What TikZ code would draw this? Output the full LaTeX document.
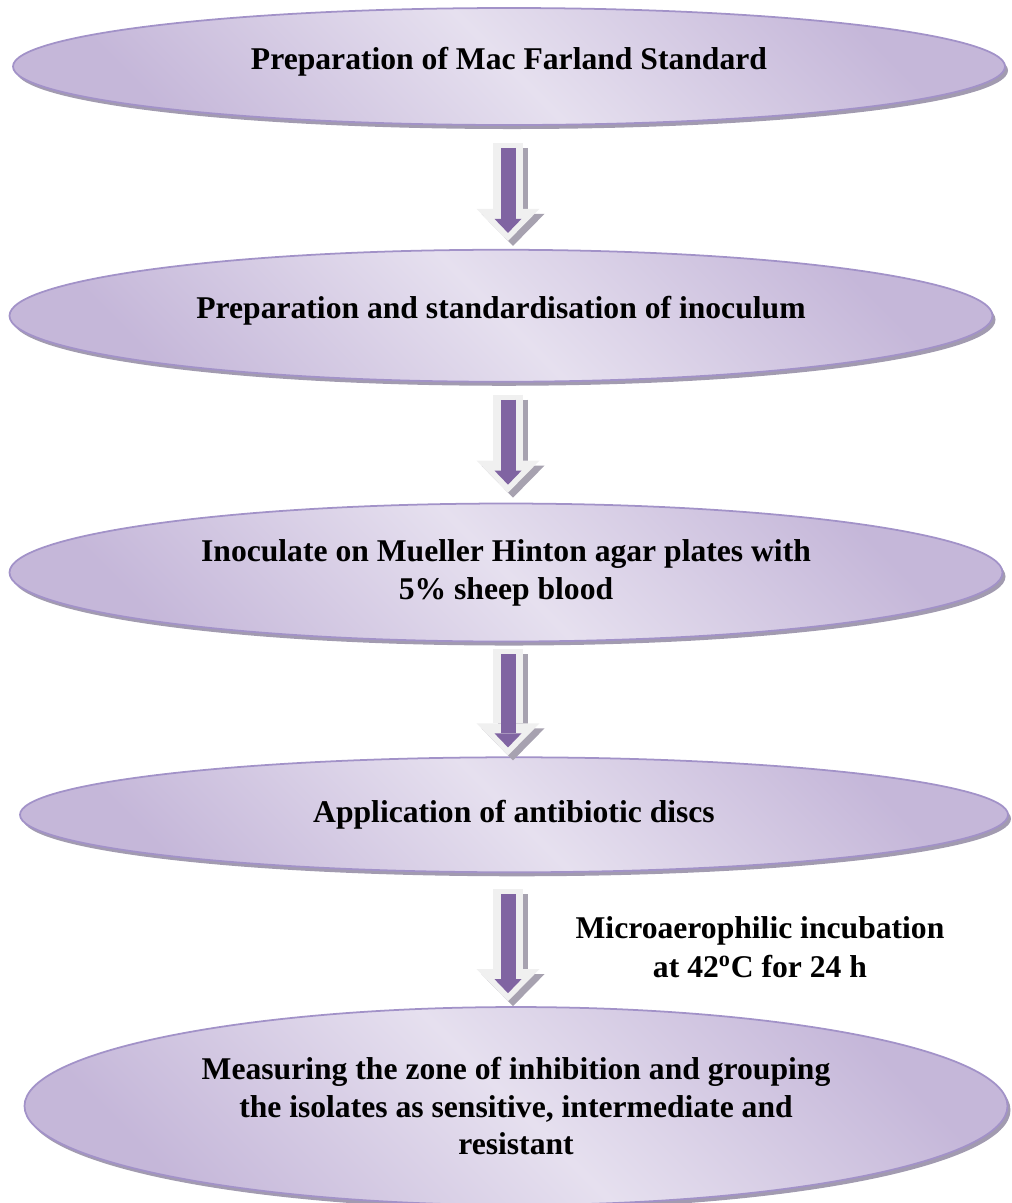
\documentclass[tikz,border=0pt]{standalone}
\usepackage{fontspec}
\setmainfont{Liberation Serif}
\usetikzlibrary{arrows.meta, positioning, shapes.geometric, shadows}

\definecolor{ellLight}{HTML}{E6E0EF}
\definecolor{ellDark}{HTML}{C5B7D9}
\definecolor{ellBorder}{HTML}{A292C8}
\definecolor{ellShadow}{HTML}{A29BB0}
\definecolor{flowPurple}{HTML}{8064A2}
\definecolor{flowShell}{HTML}{F0F0F0}
\definecolor{flowShade}{HTML}{A7A2B0}

\tikzset{
  stage/.style={ellipse, draw=ellBorder, line width=1pt, inner sep=0pt, align=center,
    top color=ellDark, bottom color=ellDark, middle color=ellLight, shading angle=-45,
    drop shadow={shadow xshift=0.06cm, shadow yshift=-0.08cm, fill=ellShadow, opacity=1},
    font=\bfseries\fontsize{18}{21.5}\selectfont},
  note/.style={align=center, font=\bfseries\fontsize{18}{22}\selectfont},
  flowshade/.style={line width=0.6cm, draw=flowShade,
    transform canvas={xshift=0.1cm, yshift=-0.1cm},
    -{Triangle[width=1.26cm, length=0.64cm, line width=0pt]}},
  flowshell/.style={line width=0.6cm, draw=flowShell,
    -{Triangle[width=1.26cm, length=0.64cm, line width=0pt]}},
  flowcore/.style={line width=0.3cm, draw=flowPurple,
    -{Triangle[width=0.54cm, length=0.28cm, line width=0pt]}}
}

% block arrow between two stages: from, to, start gap, end gap (cm)
\newcommand{\stepflow}[4]{%
  \draw[flowshade, shorten <=#3cm, shorten >=#4cm] (axis |- #1.south) -- (axis |- #2.north);
  \draw[flowshell, shorten <=#3cm, shorten >=#4cm] (axis |- #1.south) -- (axis |- #2.north);
  \draw[flowcore, shorten <=#3cm+0.1cm, shorten >=#4cm+0.16cm] (axis |- #1.south) -- (axis |- #2.north);
}

\begin{document}
\begin{tikzpicture}
    \useasboundingbox (0,0) rectangle (20.22,-24.06);

    % Stages
    \node[stage, text depth=0.34cm, minimum width=19.84cm, minimum height=2.34cm] (prep) at (10.18,-1.33)
        {Preparation of Mac Farland Standard};
    \node[stage, text depth=0.34cm, minimum width=19.66cm, minimum height=2.64cm] (inoc) [below=2.46cm of prep, xshift=-0.16cm]
        {Preparation and standardisation of inoculum};
    \node[stage, minimum width=19.86cm, minimum height=2.76cm] (plate) [below=2.40cm of inoc, xshift=0.10cm]
        {Inoculate on Mueller Hinton agar plates with\\5\% sheep blood};
    \node[stage, minimum width=19.76cm, minimum height=2.30cm] (discs) [below=2.28cm of plate, xshift=0.16cm]
        {Application of antibiotic discs};
    \node[stage, minimum width=19.66cm, minimum height=3.96cm] (zone) [below=2.66cm of discs, xshift=0.04cm]
        {Measuring the zone of inhibition and grouping\\the isolates as sensitive, intermediate and\\resistant};

    % Arrows
    \coordinate (axis) at (10.16,0);
    \stepflow{prep}{inoc}{0.34}{0.16}
    \stepflow{inoc}{plate}{0.24}{0.20}
    \stepflow{plate}{discs}{0.14}{0.02}
    \stepflow{discs}{zone}{0.32}{0.10}

    % Incubation note
    \node[note] (incub) at (15.2,-18.94)
        {Microaerophilic incubation\\at 42\textsuperscript{o}C for 24 h};
\end{tikzpicture}
\end{document}
